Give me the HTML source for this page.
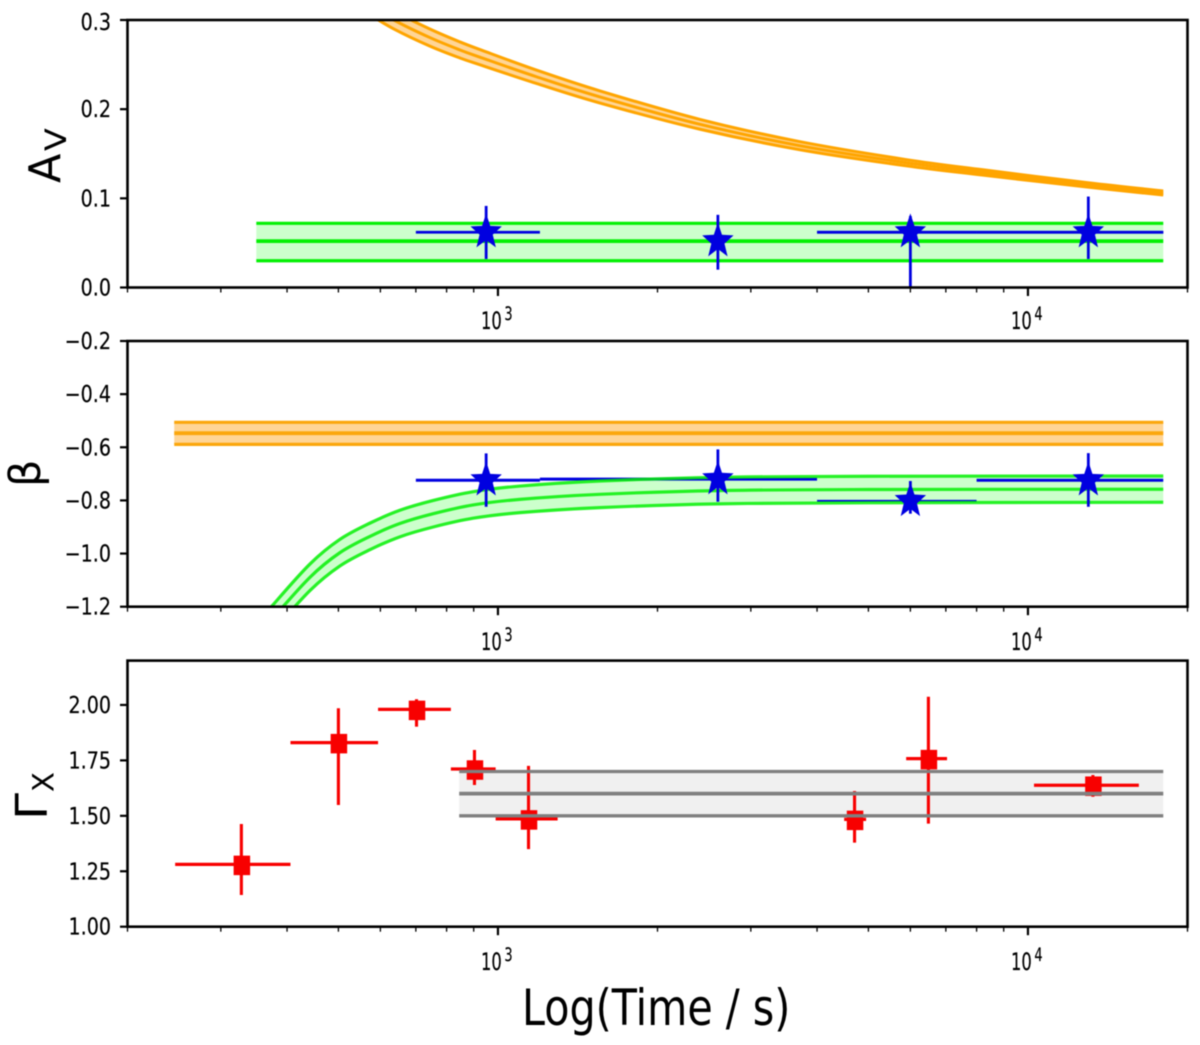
<!DOCTYPE html>
<html lang="en">
<head>
<meta charset="utf-8">
<title>Av, beta and Gamma-X versus time</title>
<style>
  html, body { margin: 0; padding: 0; background: #fff; }
  svg { display: block; filter: blur(0.45px); }
  text { font-family: "DejaVu Sans", "Liberation Sans", sans-serif; fill: #000; }
</style>
</head>
<body>
<svg id="chart" xmlns="http://www.w3.org/2000/svg" width="1200" height="1045" viewBox="0 0 1200 1045">
  <defs>
    <clipPath id="clip-av"><rect x="127.5" y="20" width="1060" height="267.5"/></clipPath>
    <clipPath id="clip-beta"><rect x="127.5" y="341" width="1060" height="265.7"/></clipPath>
    <clipPath id="clip-gamma"><rect x="127.5" y="660.6" width="1060" height="266.1"/></clipPath>
  </defs>
  <rect width="1200" height="1045" fill="#fff"/>
  <g id="panel-av"></g>
  <g id="panel-beta"></g>
  <g id="panel-gamma"></g>

  <g>
    <text font-size="42" transform="translate(60,183) rotate(-90) scale(1.02,1.04)">A</text>
    <text font-size="29" transform="translate(66,151) rotate(-90) scale(1.15,1)">V</text>
  </g>
  <text font-size="43" transform="translate(40,487) rotate(-90)">β</text>
  <g>
    <text font-size="44" transform="translate(47,820) rotate(-90) scale(1.1,1)">Γ</text>
    <text font-size="29" transform="translate(53.5,792) rotate(-90)">X</text>
  </g>
  <text font-size="50" transform="translate(522,1025) scale(0.825,1)">Log(Time / s)</text>
</svg>

<script>
// ---- shared axis data ----
const xLimits = [200, 20000];
const xMinorTicks = [200, 300, 400, 500, 600, 700, 800, 900, 2000, 3000, 4000, 5000, 6000, 7000, 8000, 9000, 20000];
const xMajorTicks = [1000, 10000];
const xMajorExponents = ['3', '4'];

// ---- Av panel data ----
const avLimits = [0, 0.3];
const avTicks = [0, 0.1, 0.2, 0.3];
const avTickLabels = ['0.0', '0.1', '0.2', '0.3'];
const avCurveTime = [560, 636, 744, 848, 933, 1180, 1558, 2406, 3715, 5886, 8228, 12985, 18000];
const avCurveMid = [0.32, 0.3, 0.2803, 0.2664, 0.2575, 0.2365, 0.2137, 0.183, 0.159, 0.14, 0.129, 0.115, 0.106];
const avCurveUpper = [0.3305, 0.31, 0.2899, 0.2754, 0.266, 0.244, 0.2205, 0.1885, 0.1635, 0.1435, 0.132, 0.1175, 0.1083];
const avCurveLower = [0.3095, 0.29, 0.2707, 0.2574, 0.249, 0.229, 0.2069, 0.1775, 0.1545, 0.1365, 0.126, 0.1125, 0.1037];
const avBandTime = [350, 18000];
const avBandMid = [0.052, 0.052];
const avBandUpper = [0.072, 0.072];
const avBandLower = [0.03, 0.03];
const avPointTime = [950, 2600, 6000, 13000];
const avPointTimeLow = [700, 1200, 4000, 8000];
const avPointTimeHigh = [1200, 4000, 8000, 18000];
const avPointValue = [0.062, 0.052, 0.062, 0.062];
const avPointLow = [0.032, 0.02, 0, 0.032];
const avPointHigh = [0.0915, 0.0815, 0.08, 0.102];

// ---- beta panel data ----
const betaLimits = [-1.2, -0.2];
const betaTicks = [-1.2, -1.0, -0.8, -0.6, -0.4, -0.2];
const betaTickLabels = ['\u22121.2', '\u22121.0', '\u22120.8', '\u22120.6', '\u22120.4', '\u22120.2'];
const betaFlatTime = [245, 18000];
const betaFlatMid = [-0.547, -0.547];
const betaFlatUpper = [-0.506, -0.506];
const betaFlatLower = [-0.589, -0.589];
const betaCurveTime = [340, 376, 442, 503, 574, 653, 755, 898, 1100, 1558, 2600, 5000, 18000];
const betaCurveUpper = [-1.3, -1.194, -1.039, -0.947, -0.885, -0.837, -0.8, -0.767, -0.746, -0.727, -0.713, -0.709, -0.708];
const betaCurveMid = [-1.35, -1.244, -1.089, -0.997, -0.935, -0.887, -0.85, -0.817, -0.796, -0.777, -0.763, -0.759, -0.758];
const betaCurveLower = [-1.4, -1.294, -1.139, -1.047, -0.985, -0.937, -0.9, -0.867, -0.846, -0.827, -0.813, -0.809, -0.807];
const betaPointTime = [950, 2600, 6000, 13000];
const betaPointTimeLow = [700, 1200, 4000, 8000];
const betaPointTimeHigh = [1200, 4000, 8000, 18000];
const betaPointValue = [-0.724, -0.72, -0.802, -0.724];
const betaPointLow = [-0.824, -0.805, -0.85, -0.824];
const betaPointHigh = [-0.623, -0.608, -0.727, -0.622];

// ---- gamma panel data ----
const gammaLimits = [1.0, 2.2];
const gammaTicks = [1.0, 1.25, 1.5, 1.75, 2.0];
const gammaTickLabels = ['1.00', '1.25', '1.50', '1.75', '2.00'];
const gammaBandTime = [845, 18000];
const gammaBandMid = [1.6, 1.6];
const gammaBandUpper = [1.7, 1.7];
const gammaBandLower = [1.5, 1.5];
const gammaPointTime = [328, 500, 702, 903, 1142, 4708, 6489, 13260];
const gammaPointTimeLow = [246, 406, 594, 815, 990, 4500, 5891, 10266];
const gammaPointTimeHigh = [406, 594, 815, 990, 1296, 4950, 7036, 16190];
const gammaPointValue = [1.281, 1.83, 1.98, 1.711, 1.486, 1.484, 1.758, 1.638];
const gammaPointLow = [1.143, 1.549, 1.902, 1.639, 1.35, 1.379, 1.465, 1.586];
const gammaPointHigh = [1.463, 1.985, 2.026, 1.797, 1.725, 1.612, 2.037, 1.684];

// ---- scales ----
const NS = 'http://www.w3.org/2000/svg';
const plotLeft = 127.5;
const plotRight = 1187.5;

function xScale(t) {
  const a = Math.log10(xLimits[0]);
  const b = Math.log10(xLimits[1]);
  return plotLeft + (Math.log10(t) - a) / (b - a) * (plotRight - plotLeft);
}
function yScaleFor(limits, top, bottom) {
  return function (v) {
    return bottom - (v - limits[0]) / (limits[1] - limits[0]) * (bottom - top);
  };
}
function make(parent, tag, props) {
  const el = document.createElementNS(NS, tag);
  for (const k in props) el.setAttribute(k, props[k]);
  parent.appendChild(el);
  return el;
}
function smooth(pts) {
  let d = 'M' + pts[0][0].toFixed(2) + ' ' + pts[0][1].toFixed(2);
  return d + smoothTail(pts);
}
function smoothTail(pts) {
  let d = '';
  for (let i = 0; i < pts.length - 1; i++) {
    const p0 = pts[Math.max(i - 1, 0)];
    const p1 = pts[i];
    const p2 = pts[i + 1];
    const p3 = pts[Math.min(i + 2, pts.length - 1)];
    const c1x = p1[0] + (p2[0] - p0[0]) / 6;
    const c1y = p1[1] + (p2[1] - p0[1]) / 6;
    const c2x = p2[0] - (p3[0] - p1[0]) / 6;
    const c2y = p2[1] - (p3[1] - p1[1]) / 6;
    d += 'C' + c1x.toFixed(2) + ' ' + c1y.toFixed(2) + ' ' + c2x.toFixed(2) + ' ' + c2y.toFixed(2) + ' ' + p2[0].toFixed(2) + ' ' + p2[1].toFixed(2);
  }
  return d;
}
function toPoints(times, values, y) {
  return times.map(function (t, i) { return [xScale(t), y(values[i])]; });
}

// ---- drawing helpers ----
function drawBandFill(group, name, times, upper, lower, y, fill, clipId) {
  const up = toPoints(times, upper, y);
  const low = toPoints(times, lower, y).reverse();
  const d = smooth(up) + 'L' + low[0][0].toFixed(2) + ' ' + low[0][1].toFixed(2) + smoothTail(low) + 'Z';
  const el = make(group, 'path', { d: d, fill: fill, 'clip-path': 'url(#' + clipId + ')' });
  
  
}
function drawCurve(group, name, times, values, y, color, width, opacity, clipId) {
  const el = make(group, 'path', {
    d: smooth(toPoints(times, values, y)), fill: 'none', stroke: color,
    'stroke-width': width, 'stroke-opacity': opacity, 'clip-path': 'url(#' + clipId + ')'
  });
  
  
}
function drawXErrors(group, prefix, low, high, values, y, color, widths) {
  values.forEach(function (v, i) {
    const el = make(group, 'line', {
      x1: xScale(low[i]), x2: xScale(high[i]), y1: y(v), y2: y(v),
      stroke: color, 'stroke-width': widths[i]
    });
    
    
  });
}
function drawYErrors(group, prefix, times, low, high, y, color, width) {
  times.forEach(function (t, i) {
    const el = make(group, 'line', {
      x1: xScale(t), x2: xScale(t), y1: y(low[i]), y2: y(high[i]),
      stroke: color, 'stroke-width': width
    });
    
    
  });
}
function drawStars(group, prefix, times, values, y) {
  const rx = 16.5;
  const ry = 18.8;
  const inner = 0.42;
  times.forEach(function (t, i) {
    const cx = xScale(t);
    const cy = y(values[i]);
    const coords = [];
    for (let k = 0; k < 10; k++) {
      const a = -Math.PI / 2 + k * Math.PI / 5;
      const f = k % 2 ? inner : 1;
      coords.push((cx + rx * f * Math.cos(a)).toFixed(2) + ',' + (cy + ry * f * Math.sin(a)).toFixed(2));
    }
    const el = make(group, 'polygon', { points: coords.join(' '), fill: '#0000e0' });
    
    
  });
}
function drawSquares(group, prefix, times, values, y) {
  const w = 16.5;
  const h = 19.5;
  times.forEach(function (t, i) {
    const el = make(group, 'rect', {
      x: xScale(t) - w / 2 + 0.5, y: y(values[i]) - h / 2 + 1, width: w, height: h, fill: '#f80000'
    });
    
    
  });
}
function drawAxes(group, prefix, top, bottom, y, ticks, labels, baselineOffsets, exponentBaseline) {
  ticks.forEach(function (v, i) {
    const t = make(group, 'line', { x1: 120, x2: plotLeft, y1: y(v), y2: y(v), stroke: '#000', 'stroke-width': 2.2 });
    
    
    const lab = make(group, 'text', {
      'font-size': 23, 'text-anchor': 'end', stroke: '#000', 'stroke-width': 0.2,
      transform: 'translate(111,' + (y(v) + baselineOffsets[i]) + ') scale(0.83,1)'
    });
    lab.textContent = labels[i];
    
    
  });
  xMinorTicks.forEach(function (v) {
    const t = make(group, 'line', { x1: xScale(v), x2: xScale(v), y1: bottom, y2: bottom + 5, stroke: '#000', 'stroke-width': 1.3 });
    
    
  });
  xMajorTicks.forEach(function (v, i) {
    const t = make(group, 'line', { x1: xScale(v), x2: xScale(v), y1: bottom, y2: bottom + 8.5, stroke: '#000', 'stroke-width': 2.2 });
    
    
    const lab = make(group, 'text', {
      'font-size': 24, stroke: '#000', 'stroke-width': 0.2,
      transform: 'translate(' + (xScale(v) - 17) + ',' + exponentBaseline + ') scale(0.68,1)'
    });
    lab.textContent = '10';
    
    
    const sup = document.createElementNS(NS, 'tspan');
    sup.setAttribute('font-size', '19');
    sup.setAttribute('dy', '-9');
    sup.setAttribute('dx', '4');
    sup.textContent = xMajorExponents[i];
    lab.appendChild(sup);
  });
  const frame = make(group, 'rect', {
    x: plotLeft, y: top, width: plotRight - plotLeft, height: bottom - top,
    fill: 'none', stroke: '#000', 'stroke-width': 2.6
  });
  
  
}

// ---- Av panel ----
(function () {
  const g = document.getElementById('panel-av');
  const y = yScaleFor(avLimits, 20, 287.5);
  const clip = 'clip-av';
  drawBandFill(g, 'av-green-band-fill', avBandTime, avBandUpper, avBandLower, y, '#ccffcc', clip);
  drawXErrors(g, 'av-point', avPointTimeLow, avPointTimeHigh, avPointValue, y, '#0000e0', [2.8, 2.8, 2.8, 2.8]);
  drawCurve(g, 'av-green-upper-line', avBandTime, avBandUpper, y, '#05f005', 3.2, 1, clip);
  drawCurve(g, 'av-green-mid-line', avBandTime, avBandMid, y, '#05f005', 3.8, 1, clip);
  drawCurve(g, 'av-green-lower-line', avBandTime, avBandLower, y, '#05f005', 3.2, 1, clip);
  drawXErrors(g, 'av-point-over', avPointTimeLow.slice(2), avPointTimeHigh.slice(2), avPointValue.slice(2), y, '#0000e0', [2.8, 2.8]);
  drawBandFill(g, 'av-orange-band-fill', avCurveTime, avCurveUpper, avCurveLower, y, '#ffd596', clip);
  drawCurve(g, 'av-orange-upper-line', avCurveTime, avCurveUpper, y, '#ffa500', 3, 1, clip);
  drawCurve(g, 'av-orange-mid-line', avCurveTime, avCurveMid, y, '#ffa500', 3, 1, clip);
  drawCurve(g, 'av-orange-lower-line', avCurveTime, avCurveLower, y, '#ffa500', 3, 1, clip);
  drawYErrors(g, 'av-point', avPointTime, avPointLow, avPointHigh, y, '#0000e0', 2.8);
  drawStars(g, 'av-point', avPointTime, avPointValue, y);
  drawAxes(g, 'av', 20, 287.5, y, avTicks, avTickLabels, [8, 8, 8, 10], 329);
})();

// ---- beta panel ----
(function () {
  const g = document.getElementById('panel-beta');
  const y = yScaleFor(betaLimits, 341, 606.7);
  const clip = 'clip-beta';
  drawBandFill(g, 'beta-orange-band-fill', betaFlatTime, betaFlatUpper, betaFlatLower, y, '#ffd596', clip);
  drawCurve(g, 'beta-orange-upper-line', betaFlatTime, betaFlatUpper, y, '#fba70d', 3.2, 1, clip);
  drawCurve(g, 'beta-orange-mid-line', betaFlatTime, betaFlatMid, y, '#fba70d', 3.8, 1, clip);
  drawCurve(g, 'beta-orange-lower-line', betaFlatTime, betaFlatLower, y, '#fba70d', 3.2, 1, clip);
  drawBandFill(g, 'beta-green-band-fill', betaCurveTime, betaCurveUpper, betaCurveLower, y, '#ccffcc', clip);
  drawXErrors(g, 'beta-point', betaPointTimeLow, betaPointTimeHigh, betaPointValue, y, '#0000e0', [3, 3, 2.2, 3]);
  drawCurve(g, 'beta-green-upper-line', betaCurveTime, betaCurveUpper, y, '#05f005', 3.2, 0.85, clip);
  drawCurve(g, 'beta-green-mid-line', betaCurveTime, betaCurveMid, y, '#05f005', 3.2, 0.85, clip);
  drawCurve(g, 'beta-green-lower-line', betaCurveTime, betaCurveLower, y, '#05f005', 3.2, 0.85, clip);
  drawYErrors(g, 'beta-point', betaPointTime, betaPointLow, betaPointHigh, y, '#0000e0', 2.8);
  drawStars(g, 'beta-point', betaPointTime, betaPointValue, y);
  drawAxes(g, 'beta', 341, 606.7, y, betaTicks, betaTickLabels, [8, 8, 8, 8, 8, 8], 650);
})();

// ---- gamma panel ----
(function () {
  const g = document.getElementById('panel-gamma');
  const y = yScaleFor(gammaLimits, 660.6, 926.7);
  const clip = 'clip-gamma';
  drawBandFill(g, 'gamma-gray-band-fill', gammaBandTime, gammaBandUpper, gammaBandLower, y, '#f0f0f0', clip);
  drawXErrors(g, 'gamma-point', gammaPointTimeLow, gammaPointTimeHigh, gammaPointValue, y, '#f80000', [3.2, 3.2, 3.2, 3.2, 3.2, 3.2, 3.2, 3.2]);
  drawYErrors(g, 'gamma-point', gammaPointTime, gammaPointLow, gammaPointHigh, y, '#f80000', 3.1);
  drawSquares(g, 'gamma-point', gammaPointTime, gammaPointValue, y);
  drawCurve(g, 'gamma-gray-upper-line', gammaBandTime, gammaBandUpper, y, '#808080', 3.3, 1, clip);
  drawCurve(g, 'gamma-gray-mid-line', gammaBandTime, gammaBandMid, y, '#808080', 3.8, 1, clip);
  drawCurve(g, 'gamma-gray-lower-line', gammaBandTime, gammaBandLower, y, '#808080', 3.3, 1, clip);
  drawAxes(g, 'gamma', 660.6, 926.7, y, gammaTicks, gammaTickLabels, [8, 8, 8, 8, 8], 970);
})();
</script>
</body>
</html>
